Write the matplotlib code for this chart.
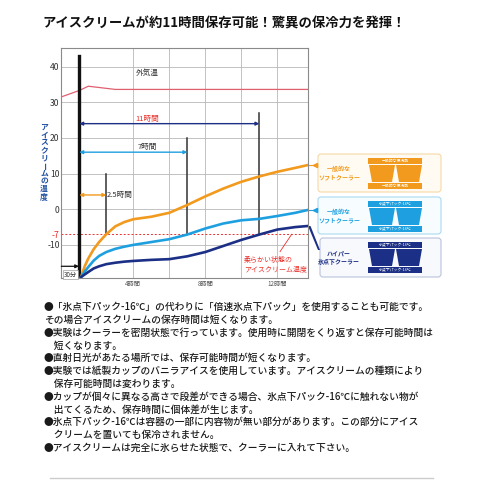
import matplotlib.pyplot as plt
from matplotlib.patches import FancyBboxPatch, Polygon, Rectangle

plt.rcParams['font.family'] = ['Noto Sans CJK JP', 'DejaVu Sans']

# time axis in hours from the left edge of the chart
hours = [1.1, 1.3, 1.5, 1.8, 2.1, 2.5, 3, 3.5, 4, 5, 6, 7, 8, 9, 10, 11, 12, 13, 13.7]
soft_cooler = [-19, -16, -13.8, -11.2, -9.2, -7, -4.8, -3.6, -2.8, -2.1, -1, 1.2, 3.6,
               5.8, 7.7, 9.2, 10.5, 11.6, 12.4]
soft_cooler_pack = [-19, -17.5, -16.2, -14.4, -13.1, -12, -11.1, -10.5, -10, -9.2, -8.4,
                    -7.1, -5.4, -4, -3.1, -2.7, -1.9, -1, -0.2]
hyper_cooler = [-19, -18.3, -17.6, -16.6, -16, -15.4, -15, -14.7, -14.5, -14.2, -14,
                -13.2, -12, -10.3, -8.6, -7.1, -5.7, -5, -4.7]

out_hours = [0, 1.0, 1.5, 3.0, 13.72]
out_temp = [31.5, 33.3, 34.5, 33.6, 33.6]

hold_hours = [2.5, 7, 11]
hold_tops = [10, 20, 27]
hold_labels = ['2.5時間', '7時間', '11時間']

yticks = [-10, -7, 0, 10, 20, 30, 40]
ygrid = [-10, 0, 10, 20, 30, 40]
xgrid = [4, 6, 8, 10, 12]
xticks = [4, 8, 12]
xtick_labels = ['4時間', '8時間', '12時間']

notes = [
    '●「氷点下パック-16℃」の代わりに「倍速氷点下パック」を使用することも可能です。',
    'その場合アイスクリームの保存時間は短くなります。',
    '●実験はクーラーを密閉状態で行っています。使用時に開閉をくり返すと保存可能時間は',
    '　短くなります。',
    '●直射日光があたる場所では、保存可能時間が短くなります。',
    '●実験では紙製カップのバニラアイスを使用しています。アイスクリームの種類により',
    '　保存可能時間は変わります。',
    '●カップが個々に異なる高さで段差ができる場合、氷点下パック-16℃に触れない物が',
    '　出てくるため、保存時間に個体差が生じます。',
    '●氷点下パック-16℃は容器の一部に内容物が無い部分があります。この部分にアイス',
    '　クリームを置いても保冷されません。',
    '●アイスクリームは完全に氷らせた状態で、クーラーに入れて下さい。',
]

orange = '#f29a1d'
light_blue = '#1ea0e0'
navy = '#1b2f86'
red = '#e8302a'

fig = plt.figure(figsize=(4.8, 4.8), dpi=100)
ax = fig.add_axes([61.3 / 480, 1 - 277.7 / 480, 247 / 480, 230 / 480])
ax.set_xlim(0, 13.72)
ax.set_ylim(-19.2, 45.3)

for g in ygrid:
    ax.axhline(g, color='#b8b8b8', lw=0.6, zorder=0)
for g in xgrid:
    ax.axvline(g, color='#b8b8b8', lw=0.6, zorder=0)
for s in ax.spines.values():
    s.set_color('#8a8a8a')
    s.set_linewidth(0.8)

ax.set_yticks(yticks)
ax.set_yticklabels([str(v) for v in yticks], fontsize=6.2, color='#333333')
ax.get_yticklabels()[1].set_color(red)
ax.set_xticks(xticks)
ax.set_xticklabels(xtick_labels, fontsize=4.5, color='#555555')
ax.tick_params(length=0, pad=1.2)

ax.axhline(-7, color=red, lw=0.7, ls=(0, (2, 2)), zorder=1)

# outside air temperature
ax.plot(out_hours, out_temp, color='#e06070', lw=0.9)
ax.text(4.75, 38.1, '外気温', fontsize=5.5, ha='center', va='center', color='#333333')

# start line and holding-time lines
ax.plot([1.0, 1.0], [-19.2, 43], color='#111111', lw=2.4, zorder=3)
for h, top in zip(hold_hours, hold_tops):
    ax.plot([h, h], [-7, top], color='#333333', lw=1.1, zorder=3)

ax.plot(hours, soft_cooler, color=orange, lw=1.9, zorder=4)
ax.plot(hours, soft_cooler_pack, color=light_blue, lw=1.9, zorder=4)
ax.plot(hours, hyper_cooler, color=navy, lw=1.9, zorder=4)

arrow_ys = [4, 16, 24]
arrow_cols = [orange, light_blue, navy]
for h, y, c in zip(hold_hours, arrow_ys, arrow_cols):
    ax.annotate('', xy=(h, y), xytext=(1.0, y),
                arrowprops=dict(arrowstyle='<|-|>', color=c, lw=1.0,
                                mutation_scale=5, shrinkA=0, shrinkB=0))
ax.text(2.5, 4, hold_labels[0], fontsize=5.5, ha='left', va='center', color='#333333')
ax.text(4.8, 17.5, hold_labels[1], fontsize=5.5, ha='center', va='center', color='#333333')
ax.text(4.75, 25.4, hold_labels[2], fontsize=5.5, ha='center', va='center', color=red)

# 30 minutes marker
ax.annotate('', xy=(0.98, -16), xytext=(0, -16),
            arrowprops=dict(arrowstyle='-|>', color='#111111', lw=0.9,
                            mutation_scale=5, shrinkA=0, shrinkB=0))
ax.text(0.5, -18.3, '30分', fontsize=4.5, ha='center', va='center', color='#333333',
        bbox=dict(boxstyle='square,pad=0.15', fc='white', ec='#888888', lw=0.4))

ax.text(10.15, -15.5, '柔らかい状態の\nアイスクリーム温度', fontsize=5, color=red,
        ha='left', va='center', linespacing=1.15, zorder=5)
ax.plot([12.15, 12.8], [-11.9, -7], color=red, lw=0.6)

# overlay in pixel coordinates for title, side legend and notes
ov = fig.add_axes([0, 0, 1, 1], zorder=-1)
ov.set_xlim(0, 480)
ov.set_ylim(480, 0)
ov.axis('off')

ov.text(42, 24, 'アイスクリームが約11時間保存可能！驚異の保冷力を発揮！',
        fontsize=9.6, fontweight='bold', ha='left', va='center', color='#111111')

# vertical y-axis label
for i, ch in enumerate('アイスクリームの温度'):
    rot = -90 if ch == 'ー' else 0
    ov.text(44, 127 + i * 7.7, ch, fontsize=5.6, fontweight='bold', color='#2050a0',
            ha='center', va='center', rotation=rot)


def cooler(top, bottom, left, edge, fill, col, name, bar_text):
    ov.add_patch(FancyBboxPatch((left, top), 441 - left, bottom - top,
                                boxstyle='round,pad=0,rounding_size=3',
                                fc=fill, ec=edge, lw=0.8))
    ov.text(339, (top + bottom) / 2, name, fontsize=4.3, fontweight='bold', color=col,
            ha='center', va='center', linespacing=1.25)
    for y0 in (top + 4, top + 29):
        ov.add_patch(Rectangle((368, y0), 54, 6, fc=col, ec='none'))
        ov.text(395, y0 + 3, bar_text, fontsize=2.8, color='white', ha='center', va='center')
    for x0 in (369, 396):
        ov.add_patch(Polygon([(x0, top + 11), (x0 + 26, top + 11),
                              (x0 + 23, top + 28), (x0 + 3, top + 28)],
                             fc=col, ec='none'))


cooler(154, 192, 318, '#f6d8a6', '#fffbf3', orange, '一般的な\nソフトクーラー', '一般的な保冷剤')
cooler(197, 234, 318, '#a9daf2', '#f7fcff', light_blue, '一般的な\nソフトクーラー', '氷点下パック-16℃')
cooler(238, 277, 320, '#b9c3db', '#f8f9fc', navy, 'ハイパー\n氷点下クーラー', '氷点下パック-16℃')

ov.plot([309, 313], [165, 165], color=orange, lw=0.8)
ov.plot([315], [165], marker='<', color=orange, ms=3)
ov.plot([309, 313], [210, 210], color=light_blue, lw=0.8)
ov.plot([315], [210], marker='<', color=light_blue, ms=3)
ov.add_patch(Polygon([(308, 226), (310.5, 226), (320, 250), (318, 250)], fc=navy, ec='none'))

for i, line in enumerate(notes):
    ov.text(44, 307 + i * 12.8, line, fontsize=7, fontweight='medium', color='#1a1a1a',
            ha='left', va='center')

ov.plot([50, 433], [478, 478], color='#cccccc', lw=1)

fig.savefig('out.png', dpi=100)
